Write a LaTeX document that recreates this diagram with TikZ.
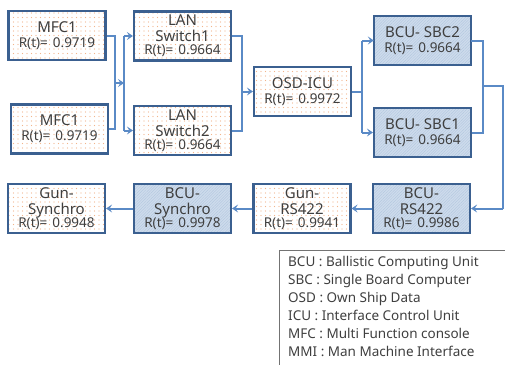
\documentclass[tikz,border=0pt]{standalone}
\usepackage{fontspec}
\setmainfont{Noto Sans}
\usetikzlibrary{arrows.meta,patterns.meta}

\definecolor{boxline}{HTML}{3B6090}
\definecolor{wire}{HTML}{5A8AC6}
\definecolor{dotc}{HTML}{F2B48A}
\definecolor{bluefill}{HTML}{CDDBEC}
\definecolor{bluehatch}{HTML}{AFC4DD}
\definecolor{txt}{HTML}{3F3F3F}

\tikzset{
  unit/.style={draw=boxline, line width=2.2pt, minimum width=97pt, minimum height=49pt,
    inner sep=0pt, align=center, text=txt, font=\fontsize{15}{18}\selectfont},
  plainunit/.style={unit, preaction={fill=white},
    pattern={Dots[distance=4.5pt,radius=0.6pt]}, pattern color=dotc},
  bcuunit/.style={unit, preaction={fill=bluefill},
    pattern={Lines[angle=45,distance=2pt,line width=0.3pt]}, pattern color=bluehatch},
  wireline/.style={draw=wire, line width=2pt},
  arrowline/.style={wireline, -{Stealth[length=6pt,width=8pt,inset=2.5pt]}},
}
\newcommand{\rel}[1]{{\fontsize{13.5}{15}\selectfont R(t)=\hspace{5pt}#1}}

\begin{document}
\begin{tikzpicture}[x=1pt,y=-1pt]
  \useasboundingbox (0,0) rectangle (505,364);

  % upper chain
  \node[plainunit] (mfcA) at (57,35.5)   {MFC1\\[-3pt]\rel{0.9719}};
  \node[plainunit] (mfcB) at (59.5,129)  {MFC1\\[-3pt]\rel{0.9719}};
  \node[plainunit] (swA)  at (182.5,36)  {LAN\\[-2pt]Switch1\\[-5pt]\rel{0.9664}};
  \node[plainunit] (swB)  at (182.5,130.5) {LAN\\[-2pt]Switch2\\[-5pt]\rel{0.9664}};
  \node[plainunit] (osd)  at (302.5,91.5) {OSD-ICU\\[-3pt]\rel{0.9972}};
  \node[bcuunit]   (sbcB) at (422.5,40.5) {BCU- SBC2\\[-3pt]\rel{0.9664}};
  \node[bcuunit]   (sbcA) at (422.5,132.5) {BCU- SBC1\\[-3pt]\rel{0.9664}};

  % lower chain
  \node[plainunit] (gunsyn) at (56.5,208.5) {Gun-\\[-2pt]Synchro\\[-5pt]\rel{0.9948}};
  \node[bcuunit]   (bcusyn) at (182.5,208.5) {BCU-\\[-2pt]Synchro\\[-5pt]\rel{0.9978}};
  \node[plainunit] (gunrs)  at (302,208.5) {Gun-\\[-2pt]RS422\\[-5pt]\rel{0.9941}};
  \node[bcuunit]   (bcurs)  at (421.5,208.5) {BCU-\\[-2pt]RS422\\[-5pt]\rel{0.9986}};

  % bus junctions
  \coordinate (b1t) at (115,35.5);
  \coordinate (b1b) at (115,129);
  \coordinate (b1m) at (115,83);
  \coordinate (b2t) at (124,36);
  \coordinate (b2b) at (124,130.5);
  \coordinate (b2m) at (124,83);
  \coordinate (b3t) at (242,36);
  \coordinate (b3b) at (242,130.5);
  \coordinate (b3m) at (242,91.5);
  \coordinate (b4m) at (362,91.5);
  \coordinate (b4t) at (362,40.5);
  \coordinate (b4b) at (362,132.5);
  \coordinate (b5t) at (483,40.5);
  \coordinate (b5b) at (483,132.5);
  \coordinate (b5m) at (483,86);
  \coordinate (rt)  at (503,86);
  \coordinate (rb)  at (503,208.5);

  % MFC consoles to the LAN switches
  \draw[wireline] (mfcA.east) -- (b1t) -- (b1b) -- (mfcB.east);
  \draw[arrowline] (b1m) -- (b2m);
  \draw[wireline] (b2t) -- (b2b);
  \draw[arrowline] (b2t) -- (swA.west);
  \draw[arrowline] (b2b) -- (swB.west);

  % LAN switches to OSD-ICU
  \draw[wireline] (swA.east) -- (b3t) -- (b3b) -- (swB.east);
  \draw[arrowline] (b3m) -- (osd.west);

  % OSD-ICU to the redundant SBCs
  \draw[wireline] (osd.east) -- (b4m);
  \draw[wireline] (b4t) -- (b4b);
  \draw[arrowline] (b4t) -- (sbcB.west);
  \draw[arrowline] (b4b) -- (sbcA.west);

  % SBCs down to the gun chain
  \draw[wireline] (sbcB.east) -- (b5t) -- (b5b) -- (sbcA.east);
  \draw[wireline] (b5m) -- (rt) -- (rb);
  \draw[arrowline] (rb) -- (bcurs.east);
  \draw[arrowline] (bcurs.west) -- (gunrs.east);
  \draw[arrowline] (gunrs.west) -- (bcusyn.east);
  \draw[arrowline] (bcusyn.west) -- (gunsyn.east);

  % abbreviations
  \draw[draw=black!55, line width=0.8pt] (279,366) -- (279,250) -- (507,250) -- (507,366);
  \node[anchor=north west, align=left, inner sep=0pt, text=txt,
        font=\fontsize{13.5}{18}\selectfont] (legend) at (288,256)
    {BCU : Ballistic Computing Unit\\
     SBC : Single Board Computer\\
     OSD : Own Ship Data\\
     ICU : Interface Control Unit\\
     MFC : Multi Function console\\
     MMI : Man Machine Interface};
\end{tikzpicture}
\end{document}
